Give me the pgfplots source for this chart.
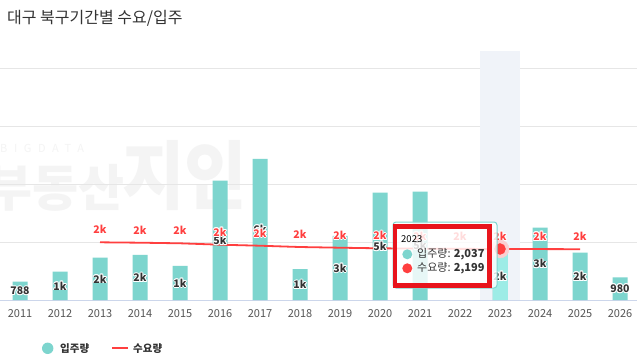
\documentclass[border=0pt]{standalone}
\usepackage{pgfplots}
\pgfplotsset{compat=1.18}
\usepackage{pgfplotstable}
\usepackage{fontspec}
\setmainfont{Noto Sans CJK KR}
\definecolor{barc}{HTML}{7DD5CE}
\definecolor{barhi}{HTML}{9DECE6}
\definecolor{redc}{HTML}{FF3F3F}
\definecolor{halor}{HTML}{FBCFD1}
\definecolor{boxred}{HTML}{E8141C}
\definecolor{bandc}{HTML}{F0F3F9}
\definecolor{gridc}{HTML}{E6E6E6}
\definecolor{axisc}{HTML}{CCD6EB}
\definecolor{darktext}{HTML}{333333}
\definecolor{ticktext}{HTML}{555555}
\definecolor{wmark}{HTML}{F4F4F4}
\newcommand\halo[2]{%
 \makebox[0pt]{\color{white}\kern0.9pt#2\kern-0.9pt}%
 \makebox[0pt]{\color{white}\kern-0.9pt#2\kern0.9pt}%
 \makebox[0pt]{\color{white}\raisebox{0.9pt}{#2}}%
 \makebox[0pt]{\color{white}\raisebox{-0.9pt}{#2}}%
 \makebox[0pt]{\color{white}\kern0.65pt\raisebox{0.65pt}{#2}\kern-0.65pt}%
 \makebox[0pt]{\color{white}\kern-0.65pt\raisebox{0.65pt}{#2}\kern0.65pt}%
 \makebox[0pt]{\color{white}\kern0.65pt\raisebox{-0.65pt}{#2}\kern-0.65pt}%
 \makebox[0pt]{\color{white}\kern-0.65pt\raisebox{-0.65pt}{#2}\kern0.65pt}%
 \makebox[0pt]{\color{#1}#2}}
\pgfplotstableread{
x year supply slabel demand dlabel
0 2011 788 788 nan {}
1 2012 1220 1k nan {}
2 2013 1823 2k 2487 2k
3 2014 1940 2k 2470 2k
4 2015 1466 1k 2444 2k
5 2016 5143 5k 2384 2k
6 2017 6078 6k 2340 2k
7 2018 1336 1k 2284 2k
8 2019 2759 3k 2254 2k
9 2020 4625 5k 2228 2k
10 2021 4669 5k 2215 2k
11 2022 nan {} 2205 2k
12 2023 2037 2k 2199 2k
13 2024 3117 3k 2195 2k
14 2025 2039 2k 2190 2k
15 2026 980 980 nan {}
}\datatable
\pgfplotstableread{
x supply
12 2037
}\hovertable
\pgfplotstableread{
x demand
12 2199
}\hoverline
\begin{document}
\begin{tikzpicture}
\useasboundingbox (0,0) rectangle (637pt,360pt);
\fill[white] (0,0) rectangle (637pt,360pt);
\node[anchor=west, inner sep=0pt, text=darktext, font=\fontsize{16}{19}\selectfont] at (7pt,342pt) {대구 북구기간별 수요/입주};
% watermark
\node[anchor=south west, inner sep=0pt, text=wmark, font=\fontsize{11}{13}\selectfont] at (0pt,207pt) {\addfontfeatures{LetterSpace=60}BIGDATA};
\node[anchor=west, inner sep=0pt, text=wmark, font=\bfseries\fontsize{50}{56}\selectfont] at (-14pt,172pt) {부동산};
\node[anchor=west, inner sep=0pt, text=wmark, font=\bfseries\fontsize{68}{80}\selectfont, yscale=1.1] at (122pt,184pt) {지인};
\begin{axis}[
  at={(0pt,60pt)}, anchor=south west,
  scale only axis, width=640pt, height=249pt,
  clip=false,
  xmin=-0.5, xmax=15.5, ymin=0, ymax=10733,
  scaled y ticks=false,
  axis x line*=bottom, axis y line*=left,
  y axis line style={draw=none},
  x axis line style={draw=axisc, line width=1pt},
  ytick={2500,5000,7500,10000}, yticklabels={},
  ymajorgrids, grid style={draw=gridc, line width=1pt},
  major tick length=0pt,
  xtick={0,...,15},
  xticklabels={2011,2012,2013,2014,2015,2016,2017,2018,2019,2020,2021,2022,2023,2024,2025,2026},
  /pgf/number format/assume math mode=true,
  xticklabel style={anchor=north, inner sep=0pt, yshift=-9.5pt, text=ticktext, font=\fontsize{11}{13}\selectfont},
]
\addplot[draw=none, fill=bandc, forget plot]
  coordinates {(11.5,10733) (12.5,10733)} \closedcycle;
% bars
\addplot[ybar, bar width=15pt, bar shift=0pt, fill=barc, draw=none]
  table[x=x, y=supply] {\datatable};
\addplot[ybar, bar width=15pt, bar shift=0pt, fill=barhi, draw=none]
  table[x=x, y=supply] {\hovertable};
% bar labels (centred in bar)
\addplot[draw=none, mark=none,
  point meta=explicit symbolic,
  nodes near coords={\halo{darktext}{\pgfplotspointmeta}},
  every node near coord/.style={anchor=center, inner sep=0pt, font=\bfseries\fontsize{10.5}{12}\selectfont}]
  table[x=x, y expr=\thisrow{supply}/2, meta=slabel] {\datatable};
% demand line
\addplot[redc, line width=1.8pt, mark=none,
  point meta=explicit symbolic,
  nodes near coords={\halo{redc}{\pgfplotspointmeta}},
  every node near coord/.style={anchor=base, inner sep=0pt, yshift=8.5pt, font=\bfseries\fontsize{10.5}{12}\selectfont}]
  table[x=x, y=demand, meta=dlabel] {\datatable};
% hovered point
\addplot[halor, only marks, mark=*, mark size=9pt,
  mark options={solid, draw=halor, fill=halor}]
  table[x=x, y=demand] {\hoverline};
\addplot[redc, only marks, mark=*, mark size=5.5pt,
  mark options={solid, draw=redc, fill=redc}]
  table[x=x, y=demand] {\hoverline};
\end{axis}
% tooltip
\draw[draw=barc, line width=1pt, rounded corners=3pt, fill=white, fill opacity=0.82] (393pt,72pt) rectangle (497pt,138pt);
\node[anchor=west, inner sep=0pt, font=\fontsize{9.5}{11}\selectfont] at (401pt,121pt) {2023};
\fill[barc] (407.3pt,105.7pt) circle (5pt);
\node[anchor=west, inner sep=0pt, text=darktext, font=\fontsize{11}{13}\selectfont] at (417pt,105.7pt) {입주량: \textbf{2,037}};
\fill[redc] (407.3pt,91.7pt) circle (5pt);
\node[anchor=west, inner sep=0pt, text=darktext, font=\fontsize{11}{13}\selectfont] at (417pt,91.7pt) {수요량: \textbf{2,199}};
\draw[boxred, line width=4.7pt] (395pt,133.3pt) rectangle (489.3pt,74.8pt);
% legend
\fill[barc] (47.7pt,11.7pt) circle (5.7pt);
\node[anchor=west, inner sep=0pt, text=darktext, font=\bfseries\fontsize{10.5}{12}\selectfont] at (60pt,11.7pt) {입주량};
\draw[redc, line width=2pt] (112pt,11.7pt) -- (128pt,11.7pt);
\node[anchor=west, inner sep=0pt, text=darktext, font=\bfseries\fontsize{10.5}{12}\selectfont] at (133pt,11.7pt) {수요량};
\end{tikzpicture}
\end{document}
